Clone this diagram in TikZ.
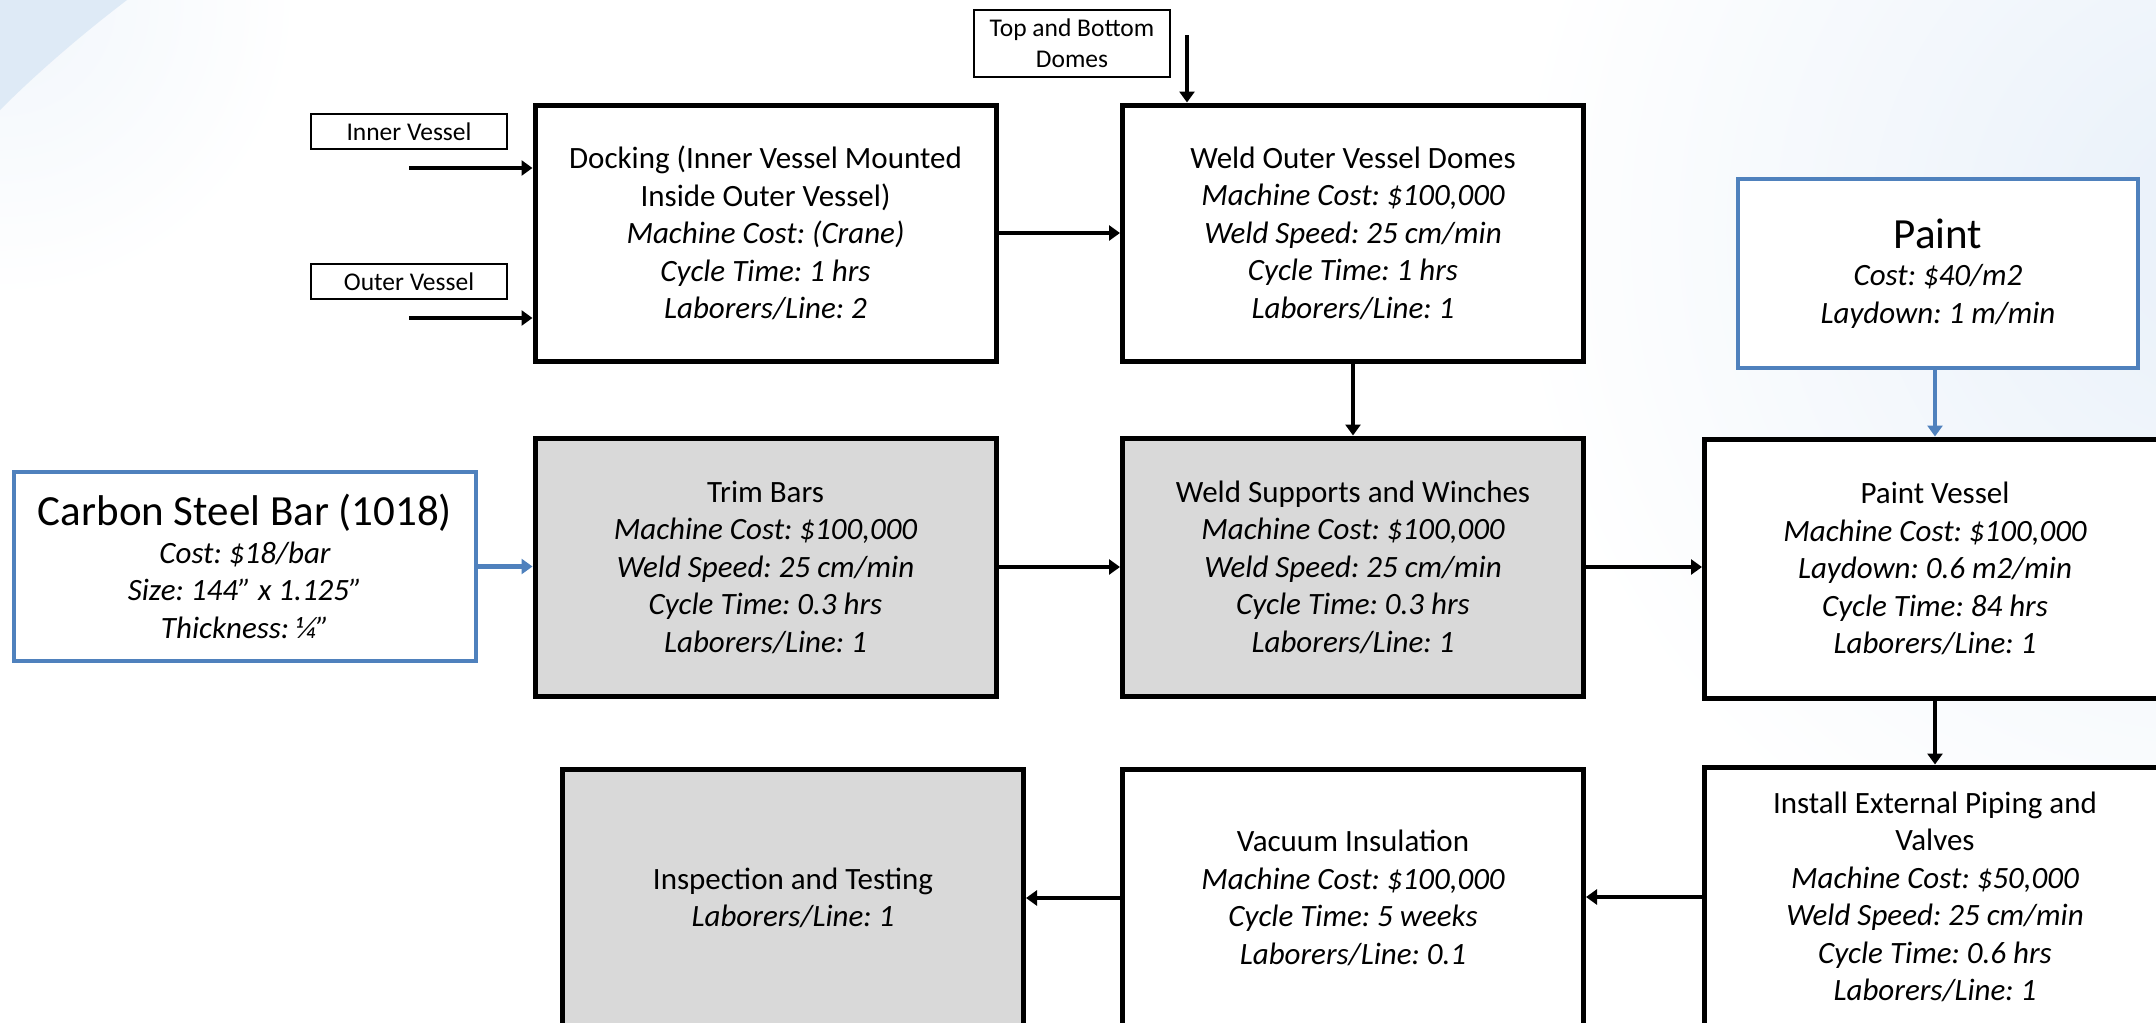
\documentclass[tikz,border=0pt]{standalone}
\usepackage{fontspec}
\setmainfont{Carlito}
\usetikzlibrary{arrows.meta}
\frenchspacing

\definecolor{supblue}{HTML}{4F81BD}
\definecolor{stepgray}{HTML}{D9D9D9}
\definecolor{washblue}{RGB}{222,234,246}
\definecolor{haze}{RGB}{232,240,249}

\newcommand\stagefont{\fontsize{31}{37.5}\selectfont}
\newcommand\headfont{\fontsize{43}{48}\selectfont}
\newcommand\tagfont{\fontsize{25.5}{31}\selectfont}
\newcommand\spec{\itshape}

\begin{document}
\begin{tikzpicture}[x=1pt,y=-1pt,
  stage/.style={draw, line width=5pt, fill=white, minimum width=461pt,
    minimum height=257pt, align=center, font=\stagefont, inner sep=0pt},
  done/.style={fill=stepgray},
  supply/.style={draw=supblue, line width=4pt, fill=white, align=center,
    inner sep=0pt, font=\stagefont},
  tag/.style={draw, line width=1.5pt, fill=white, align=center,
    inner sep=0pt, font=\tagfont},
  flow/.style={line width=4.5pt, -{Triangle[length=11pt,width=15pt]}},
  feed/.style={draw=supblue, line width=4.5pt,
    -{Triangle[length=11pt,width=15pt]}, supblue}]

% page and background wash
\useasboundingbox (0,0) rectangle (2156,1023);
\clip (0,0) rectangle (2156,1023);
\fill[white] (0,0) rectangle (2156,1023);
\shade[inner color=haze, outer color=white] (2230,230) circle (720);
\shade[inner color=haze!60, outer color=white] (0,0) circle (300);
\fill[washblue] (0,0) -- (127,0) .. controls (85,32) and (40,70) .. (0,110) -- cycle;

% incoming parts
\node[tag, minimum width=196pt, minimum height=35pt] (inner) at (409,131.5) {Inner Vessel};
\node[tag, minimum width=196pt, minimum height=35pt] (outer) at (409,281.5) {Outer Vessel};
\node[tag, minimum width=196pt, minimum height=67pt] (domes) at (1072,43.5) {Top and Bottom\\Domes};

% raw materials
\node[supply, minimum width=462pt, minimum height=189pt] (steel) at (245,566.5)
  {\headfont Carbon Steel Bar (1018)\\\spec Cost: \$18/bar\\\spec Size: 144” x 1.125”\\\spec Thickness: ¼”};
\node[supply, minimum width=400pt, minimum height=189pt] (paint) at (1938,273.5)
  {\headfont Paint\\\spec Cost: \$40/m2\\\spec Laydown: 1 m/min};

% process steps
\node[stage, minimum height=256pt] (dock) at (765.5,233)
  {Docking (Inner Vessel Mounted\\Inside Outer Vessel)\\\spec Machine Cost: (Crane)\\\spec Cycle Time: 1 hrs\\\spec Laborers/Line: 2};
\node[stage, minimum height=256pt] (domeweld) at (1353,233)
  {Weld Outer Vessel Domes\\\spec Machine Cost: \$100,000\\\spec Weld Speed: 25 cm/min\\\spec Cycle Time: 1 hrs\\\spec Laborers/Line: 1};
\node[stage, done, minimum height=258pt] (trim) at (765.5,567)
  {Trim Bars\\\spec Machine Cost: \$100,000\\\spec Weld Speed: 25 cm/min\\\spec Cycle Time: 0.3 hrs\\\spec Laborers/Line: 1};
\node[stage, done, minimum height=258pt] (winch) at (1353,567)
  {Weld Supports and Winches\\\spec Machine Cost: \$100,000\\\spec Weld Speed: 25 cm/min\\\spec Cycle Time: 0.3 hrs\\\spec Laborers/Line: 1};
\node[stage, minimum height=259pt] (pvessel) at (1935,568.5)
  {Paint Vessel\\\spec Machine Cost: \$100,000\\\spec Laydown: 0.6 m2/min\\\spec Cycle Time: 84 hrs\\\spec Laborers/Line: 1};
\node[stage, minimum height=260pt] (piping) at (1935,897)
  {Install External Piping and\\Valves\\\spec Machine Cost: \$50,000\\\spec Weld Speed: 25 cm/min\\\spec Cycle Time: 0.6 hrs\\\spec Laborers/Line: 1};
\node[stage, minimum height=258pt] (vacuum) at (1353,898)
  {Vacuum Insulation\\\spec Machine Cost: \$100,000\\\spec Cycle Time: 5 weeks\\\spec Laborers/Line: 0.1};
\node[stage, done, minimum height=258pt] (inspect) at (793,898)
  {Inspection and Testing\\\spec Laborers/Line: 1};

% free ends of the feed arrows
\coordinate (innerfeed) at (409,168);
\coordinate (outerfeed) at (409,318);
\coordinate (domefeed) at (1187,35);

% connectors
\draw[flow] (innerfeed) -- (innerfeed -| dock.west);
\draw[flow] (outerfeed) -- (outerfeed -| dock.west);
\draw[flow, line width=4pt] (domefeed) -- (domefeed |- domeweld.north);
\draw[flow] (dock.east) -- (domeweld.west);
\draw[flow, line width=4pt] (domeweld.south) -- (winch.north);
\draw[feed] (steel.east) -- (steel.east -| trim.west);
\draw[flow] (trim.east) -- (trim.east -| winch.west);
\draw[flow] (winch.east) -- (winch.east -| pvessel.west);
\draw[feed] (paint.south -| pvessel.north) -- (pvessel.north);
\draw[flow] (pvessel.south) -- (piping.north);
\draw[flow] (piping.west) -- (piping.west -| vacuum.east);
\draw[flow] (vacuum.west) -- (inspect.east);
\end{tikzpicture}
\end{document}
